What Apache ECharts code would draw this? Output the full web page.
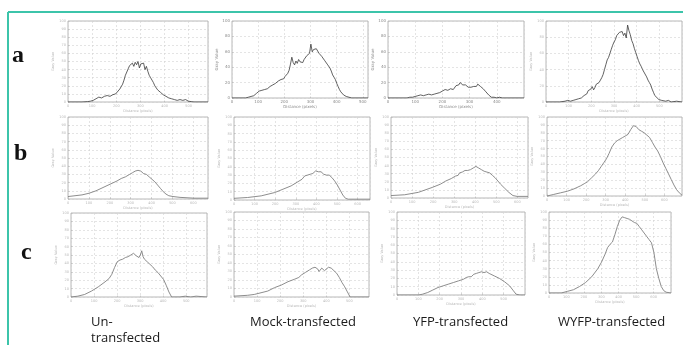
<!DOCTYPE html>
<html>
<head>
<meta charset="utf-8">
<script src="https://cdn.jsdelivr.net/npm/echarts@6/dist/echarts.min.js"></script>
<style>
  html, body { margin: 0; padding: 0; background: #fff; }
  #chart { width: 683px; height: 345px; }
</style>
</head>
<body>
<div id="chart"></div>
<script>
// row / column captions
const rowLabels = ['a', 'b', 'c'];
const columnLabels = ['Un-\ntransfected', 'Mock-transfected', 'YFP-transfected', 'WYFP-transfected'];

// profiles: [position along line (% of axis), grey value (%)]
const a1 = [[0,0],[5,0],[10,0],[14,0.5],[16,1],[18,2],[20,4],[22,6],[24,5],[26,7],[28,8],[30,7],[32,9],[34,10],[35,12],[37,16],[39,22],[40,27],[41,33],[42,37],[43,41],[44,45],[45,43],[46,48],[47,44],[48,49],[49,46],[50,50],[51,42],[52,47],[53,45],[54,48],[55,40],[56,44],[57,38],[58,33],[59,30],[60,27],[61,24],[62,20],[63,18],[64,15],[66,12],[68,9],[70,7],[72,5],[74,4],[76,3],[78,2],[80,3],[82,2],[84,3],[86,1],[88,0.5],[90,0],[100,0]];
const a2 = [[0,0],[10,0],[12,1],[14,2],[16,3],[17,4],[18,6],[19,8],[20,9],[21,11],[22,10],[23,12],[24,11],[25,13],[26,12],[27,14],[28,15],[29,14],[30,17],[31,16],[32,19],[33,20],[34,22],[35,21],[36,24],[37,26],[38,25],[39,28],[40,30],[41,32],[42,36],[43,44],[44,53],[45,46],[46,43],[47,48],[48,45],[49,50],[50,47],[51,49],[52,46],[53,50],[54,52],[55,55],[56,53],[57,58],[58,70],[59,60],[60,63],[61,61],[62,64],[63,62],[64,58],[65,59],[66,54],[67,52],[68,49],[69,47],[70,44],[71,42],[72,39],[73,35],[74,30],[75,27],[76,24],[77,19],[78,15],[79,11],[80,8],[81,6],[82,4],[84,2],[86,1],[88,0],[100,0]];
const a3 = [[0,0],[14,0],[16,1],[18,1],[20,2],[22,3],[24,4],[26,3],[28,4],[30,5],[32,4],[34,5],[36,6],[38,7],[40,9],[42,11],[44,10],[46,12],[48,11],[49,13],[50,16],[51,18],[52,17],[53,20],[54,18],[55,17],[56,16],[57,17],[58,15],[59,14],[60,13],[61,14],[62,13],[63,15],[64,16],[65,15],[66,18],[67,17],[68,15],[69,14],[70,12],[71,10],[72,8],[73,7],[74,4],[75,2],[76,1],[78,1],[80,0],[82,1],[84,0],[100,0]];
const a4 = [[0,0],[10,0],[14,1],[16,2],[18,1],[20,2],[22,3],[24,4],[26,5],[28,8],[30,10],[31,14],[32,12],[33,16],[34,19],[35,15],[36,18],[37,22],[38,20],[39,24],[40,27],[41,30],[42,34],[43,40],[44,46],[45,52],[46,55],[47,60],[48,65],[49,70],[50,74],[51,77],[52,82],[53,80],[54,86],[55,84],[56,87],[57,82],[58,85],[59,79],[60,95],[61,88],[62,83],[63,76],[64,72],[65,66],[66,61],[67,56],[68,51],[69,47],[70,44],[71,40],[72,37],[73,35],[74,31],[75,27],[76,24],[77,21],[78,16],[79,12],[80,8],[81,6],[83,3],[85,2],[88,1],[90,2],[92,0],[96,1],[100,0]];

const b1 = [[0,3],[5,4],[10,5],[15,7],[20,10],[25,14],[30,18],[35,22],[38,25],[41,27],[44,30],[46,32],[48,34],[49,35],[50,35],[51,34],[52,34],[53,33],[54,31],[55,31],[56,30],[57,29],[58,27],[60,24],[62,21],[64,17],[66,13],[68,9],[70,6],[72,4],[75,3],[80,2],[90,1],[100,1]];
const b2 = [[0,2],[10,3],[20,5],[30,9],[36,13],[42,17],[47,22],[50,25],[52,29],[53,31],[54,30],[55,32],[56,31],[57,33],[58,32],[59,34],[60,35],[61,33],[62,34],[63,32],[64,34],[65,33],[66,31],[67,32],[68,30],[70,30],[72,27],[74,23],[76,18],[78,12],[80,6],[82,2],[84,1],[100,1]];
const b3 = [[0,3],[10,4],[20,7],[30,13],[36,17],[40,21],[44,24],[47,27],[48,29],[49,28],[50,31],[52,32],[53,31],[54,34],[56,34],[58,35],[60,37],[62,39],[64,37],[66,35],[68,33],[70,32],[72,31],[74,28],[76,25],[78,21],[80,17],[83,12],[86,7],[89,3],[92,2],[100,2]];
const b4 = [[0,0],[5,2],[10,4],[15,6],[20,9],[25,13],[28,16],[30,18],[33,23],[36,28],[38,32],[40,37],[42,42],[44,47],[46,54],[48,62],[50,67],[52,70],[54,72],[55,71],[56,74],[57,72],[58,76],[60,78],[62,84],[64,89],[66,88],[68,84],[70,82],[72,80],[74,77],[76,74],[78,68],[80,62],[82,57],[84,50],[86,42],[88,35],[90,28],[92,21],[94,14],[96,8],[98,4],[100,1]];

const c1 = [[0,0],[5,1],[10,3],[15,7],[20,12],[25,18],[28,22],[30,27],[32,35],[34,42],[36,44],[38,45],[40,47],[42,48],[44,50],[46,52],[48,49],[50,47],[51,50],[52,55],[53,48],[54,45],[56,42],[58,39],[60,36],[62,32],[64,29],[66,25],[68,21],[70,14],[72,6],[74,0],[80,0],[84,1],[88,0],[92,1],[100,0]];
const c2 = [[0,1],[10,2],[15,3],[20,5],[25,7],[30,11],[35,14],[40,18],[45,21],[48,23],[50,26],[53,29],[56,32],[58,34],[60,35],[62,33],[63,30],[64,31],[65,34],[66,33],[67,31],[68,33],[70,35],[72,34],[74,31],[76,28],[78,23],[80,17],[82,12],[84,6],[86,0],[100,0]];
const c3 = [[0,0],[17,0],[20,1],[24,3],[28,6],[32,9],[36,11],[40,13],[44,15],[48,17],[52,19],[54,21],[56,22],[58,22],[60,25],[62,26],[64,27],[66,28],[68,27],[70,28],[72,26],[76,23],[80,20],[84,16],[88,11],[91,5],[93,1],[96,0],[100,0]];
const c4 = [[0,0],[10,0],[15,2],[20,4],[25,8],[30,13],[35,20],[40,30],[43,38],[46,48],[48,56],[50,60],[52,63],[54,72],[56,82],[58,90],[60,94],[62,93],[64,92],[66,91],[68,89],[70,87],[72,86],[74,82],[76,78],[78,74],[80,70],[82,66],[84,62],[86,50],[88,30],[90,18],[92,8],[94,3],[96,1],[100,0]];

// box = [left, top, width, height]; xSteps = number of vertical grid divisions
const panels = [
  { data: a1, box: [68, 21, 140, 81], xSteps: 5.8, yStep: 10, raw: true },
  { data: a2, box: [232, 21, 136, 77], xSteps: 5.2, yStep: 20, raw: true, sharp: true },
  { data: a3, box: [388, 21, 136, 77], xSteps: 5, yStep: 20, raw: true, sharp: true },
  { data: a4, box: [546, 21, 136, 81], xSteps: 6, yStep: 20, raw: true },
  { data: b1, box: [68, 117, 140, 82], xSteps: 6.7, yStep: 10 },
  { data: b2, box: [234, 117, 136, 83], xSteps: 6.6, yStep: 10 },
  { data: b3, box: [391, 117, 137, 81], xSteps: 6.5, yStep: 10 },
  { data: b4, box: [547, 117, 135, 79], xSteps: 6.9, yStep: 10 },
  { data: c1, box: [71, 213, 136, 84], xSteps: 5.9, yStep: 10 },
  { data: c2, box: [234, 212, 135, 85], xSteps: 5.85, yStep: 10 },
  { data: c3, box: [397, 212, 128, 83], xSteps: 6, yStep: 10 },
  { data: c4, box: [549, 212, 122, 81], xSteps: 7, yStep: 10 }
];

const chart = echarts.init(document.getElementById('chart'), null, { renderer: 'canvas' });

const gridLine = { color: '#d2d2d2', width: 0.6, type: [2, 2] };

const grids = [], xAxes = [], yAxes = [], series = [];
panels.forEach((p, i) => {
  // the scanned panels only show readable tick text on the two middle top plots
  const tiny = { fontSize: p.sharp ? 4 : 3.5, color: p.sharp ? '#8a8a8a' : '#b8b8b8', fontFamily: 'DejaVu Sans' };
  grids.push({
    left: p.box[0], top: p.box[1], width: p.box[2], height: p.box[3],
    show: true, borderColor: '#a6a6a6', borderWidth: 0.8, backgroundColor: '#fff'
  });
  xAxes.push({
    type: 'value', gridIndex: i, min: 0, max: 100, interval: 100 / p.xSteps,
    name: 'Distance (pixels)', nameLocation: 'middle', nameGap: 7, nameTextStyle: tiny,
    axisLine: { show: false },
    axisTick: { show: true, inside: true, length: 1.5, lineStyle: { color: '#aaa', width: 0.5 } },
    axisLabel: { ...tiny, margin: 2, showMaxLabel: false, formatter: v => Math.round(v * p.xSteps) },
    splitLine: { show: true, lineStyle: gridLine }
  });
  yAxes.push({
    type: 'value', gridIndex: i, min: 0, max: 100, interval: p.yStep,
    name: 'Gray Value', nameLocation: 'middle', nameGap: 9, nameRotate: 90, nameTextStyle: tiny,
    axisLine: { show: false },
    axisTick: { show: true, inside: true, length: 1.5, lineStyle: { color: '#aaa', width: 0.5 } },
    axisLabel: { ...tiny, margin: 2 },
    splitLine: { show: true, lineStyle: gridLine }
  });
  series.push({
    type: 'line', xAxisIndex: i, yAxisIndex: i, data: p.data,
    showSymbol: false, symbol: 'none', animation: false,
    lineStyle: { color: p.raw ? '#3a3a3a' : '#808080', width: p.raw ? 0.8 : 0.9 }
  });
});

const frame = '#3cc4aa';
const graphic = [
  { type: 'line', shape: { x1: 8, y1: 12, x2: 683, y2: 12 }, style: { stroke: frame, lineWidth: 2 } },
  { type: 'line', shape: { x1: 8, y1: 12, x2: 8, y2: 345 }, style: { stroke: frame, lineWidth: 2 } }
];
const rowPos = [[12, 57], [14, 155], [21, 254]];
rowLabels.forEach((t, i) => {
  graphic.push({
    type: 'text', left: rowPos[i][0], top: rowPos[i][1] - 13,
    style: { text: t, font: 'bold 24px "Liberation Serif"', fill: '#111' }
  });
});
const colPos = [[91, 314], [250, 314], [413, 314], [558, 314]];
columnLabels.forEach((t, i) => {
  graphic.push({
    type: 'text', left: colPos[i][0], top: colPos[i][1],
    style: { text: t, font: '13px "Open Sans"', fill: '#1a1a1a', lineHeight: 16 }
  });
});

chart.setOption({
  animation: false,
  grid: grids,
  xAxis: xAxes,
  yAxis: yAxes,
  series: series,
  graphic: graphic
});
</script>
</body>
</html>
